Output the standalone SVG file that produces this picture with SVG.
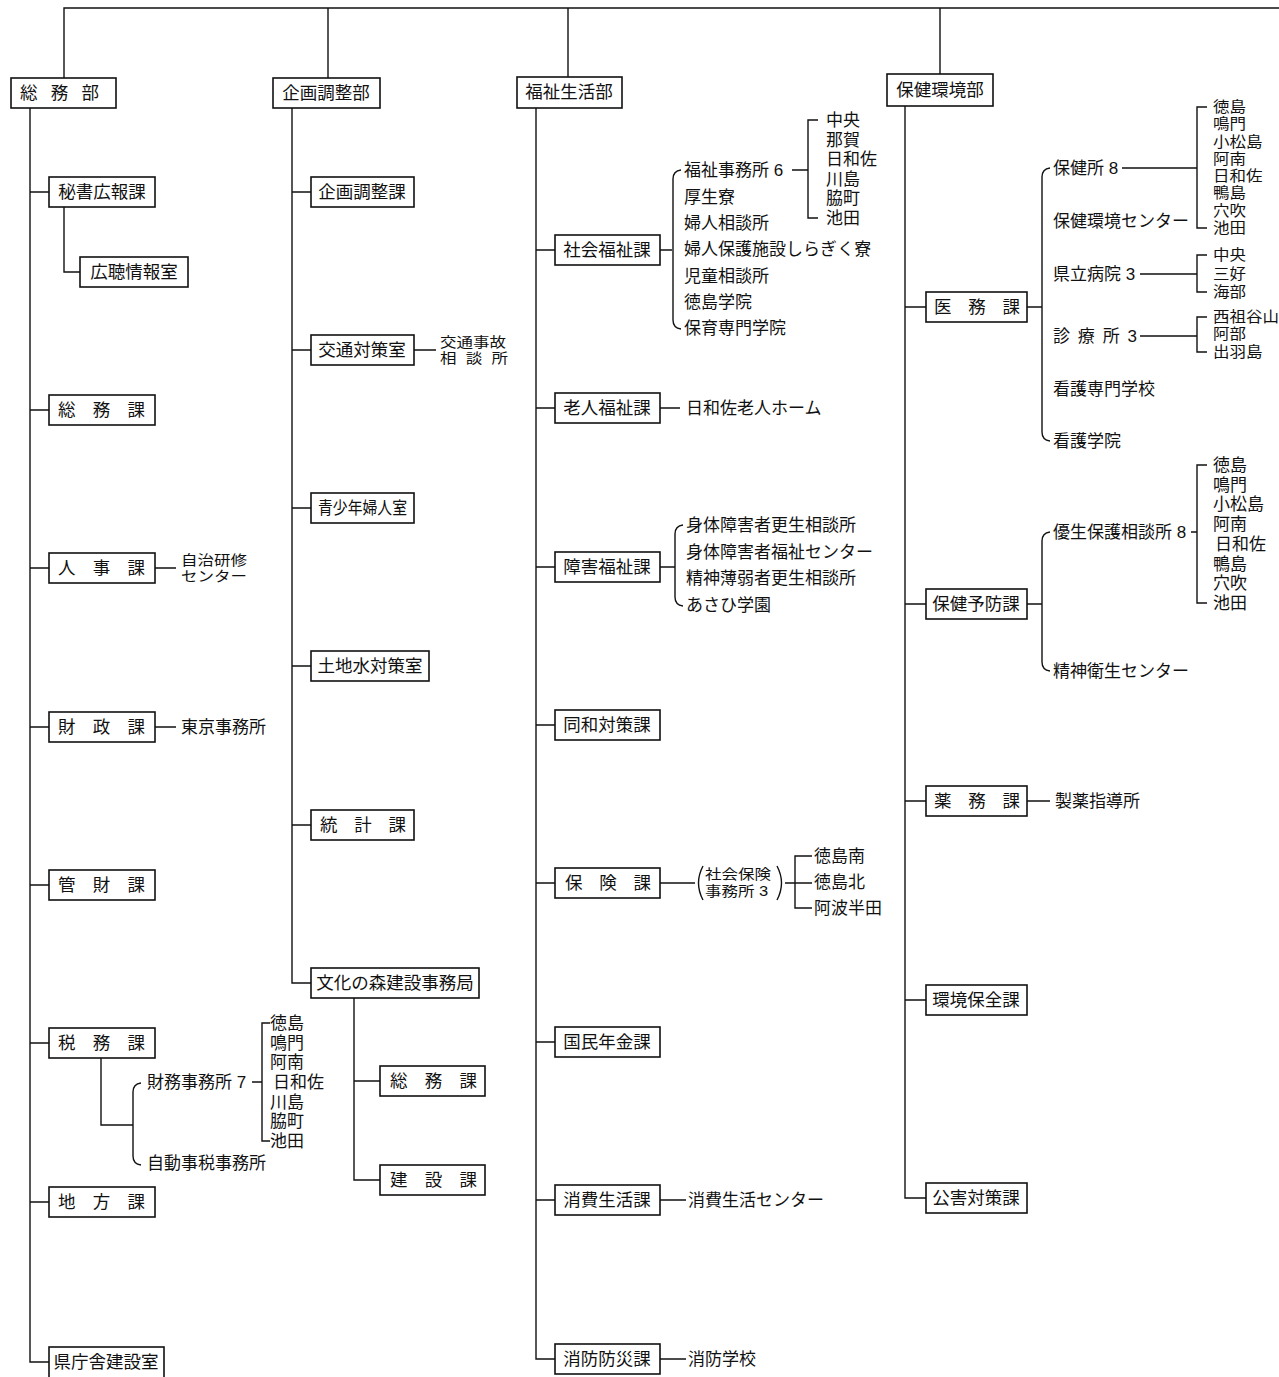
<svg xmlns="http://www.w3.org/2000/svg" width="1279" height="1377" viewBox="0 0 1279 1377">
<style>
text{font-family:"Liberation Sans","Noto Sans CJK JP","Noto Sans CJK SC",sans-serif;fill:#111;dominant-baseline:central}
.b{font-size:17.5px}
.l{font-size:17px}
.s{font-size:16.5px}
.box{fill:#fff;stroke:#111;stroke-width:1.6}
.c path{fill:none;stroke:#111;stroke-width:1.4}
.m{text-anchor:middle}
</style>
<rect width="1279" height="1377" fill="#fff"/>
<g class="c" id="connectors">
<path d="M64 78V8H1279M328 8V78M568 8V77M940 8V74"/>
<path d="M30 108V1362H49M30 192H49M30 410H49M30 568H49M30 727H49M30 885H49M30 1043H49M30 1202H49"/>
<path d="M64 207V272H80M155 568H176M155 727H176"/>
<path d="M101 1058V1125H133M141 1083Q133 1084 133 1092V1156Q133 1164 141 1165"/>
<path d="M252 1082H262M270 1023H262V1141H270"/>
<path d="M292 108V983H311M292 192H311M292 350H311M292 508H311M292 666H311M292 825H311"/>
<path d="M414 350H436M354 998V1180H380M354 1081H380"/>
<path d="M536 108V1359H555M536 250H555M536 408H555M536 567H555M536 725H555M536 883H555M536 1042H555M536 1200H555"/>
<path d="M660 250H672M681 170Q673 171 673 179V320Q673 328 681 329"/>
<path d="M792 170H808M818 120H808V218H818"/>
<path d="M660 408H680M660 567H675M683 525Q675 526 675 534V597Q675 605 683 606"/>
<path d="M660 883H695M703 866Q694 883 703 900M777 866Q786 883 777 900M785 883H812M812 856H795V908H812"/>
<path d="M660 1200H686M660 1359H686"/>
<path d="M905 106V1198H926M905 307H926M905 604H926M905 801H926M905 1000H926"/>
<path d="M1027 307H1042M1050 168Q1042 169 1042 177V432Q1042 440 1050 441"/>
<path d="M1122 168H1197M1207 107H1197V228H1207"/>
<path d="M1140 274H1197M1207 255H1197V292H1207M1140 336H1197M1207 317H1197V352H1207"/>
<path d="M1027 604H1042M1050 532Q1042 533 1042 541V662Q1042 670 1050 671"/>
<path d="M1191 532H1197M1207 465H1197V603H1207M1027 801H1050"/>
</g>

<g id="dept-somu"><rect class="box" x="11" y="78" width="105" height="30"/><text class="b" x="20" y="93" textLength="79" lengthAdjust="spacing">総務部</text></g>
<g id="dept-kikaku"><rect class="box" x="273" y="78" width="107" height="30"/><text class="b m" x="326" y="93">企画調整部</text></g>
<g id="dept-fukushi"><rect class="box" x="517" y="77" width="105" height="31"/><text class="b m" x="569" y="92">福祉生活部</text></g>
<g id="dept-hoken"><rect class="box" x="887" y="74" width="106" height="32"/><text class="b m" x="940" y="90">保健環境部</text></g>

<g id="n-hisho"><rect class="box" x="49" y="177" width="106" height="30"/><text class="b m" x="102" y="192">秘書広報課</text></g>
<g id="n-kocho"><rect class="box" x="80" y="257" width="108" height="30"/><text class="b m" x="134" y="272">広聴情報室</text></g>
<g id="n-somuka"><rect class="box" x="49" y="395" width="106" height="30"/><text class="b" x="58" y="410" textLength="87" lengthAdjust="spacing">総務課</text></g>
<g id="n-jinji"><rect class="box" x="49" y="553" width="106" height="30"/><text class="b" x="58" y="568" textLength="87" lengthAdjust="spacing">人事課</text>
<text class="s" transform="translate(181,560) scale(1,0.86)">自治研修</text><text class="s" transform="translate(181,576) scale(1,0.86)">センター</text></g>
<g id="n-zaisei"><rect class="box" x="49" y="712" width="106" height="30"/><text class="b" x="58" y="727" textLength="87" lengthAdjust="spacing">財政課</text><text class="l" x="181" y="727">東京事務所</text></g>
<g id="n-kanzai"><rect class="box" x="49" y="870" width="106" height="30"/><text class="b" x="58" y="885" textLength="87" lengthAdjust="spacing">管財課</text></g>
<g id="n-zeimu"><rect class="box" x="49" y="1028" width="106" height="30"/><text class="b" x="58" y="1043" textLength="87" lengthAdjust="spacing">税務課</text>
<text class="l" x="147" y="1082">財務事務所 7</text><text class="l" x="147" y="1163">自動事税事務所</text>
<text class="l" x="270" y="1023">徳島</text><text class="l" x="270" y="1043">鳴門</text><text class="l" x="270" y="1062">阿南</text><text class="l" x="273" y="1082">日和佐</text><text class="l" x="270" y="1102">川島</text><text class="l" x="270" y="1121">脇町</text><text class="l" x="270" y="1141">池田</text></g>
<g id="n-chiho"><rect class="box" x="49" y="1187" width="106" height="30"/><text class="b" x="58" y="1202" textLength="87" lengthAdjust="spacing">地方課</text></g>
<g id="n-chosha"><rect class="box" x="49" y="1347" width="115" height="32"/><text class="b m" x="106" y="1362">県庁舎建設室</text></g>

<g id="n-kikakuka"><rect class="box" x="311" y="177" width="103" height="30"/><text class="b m" x="362" y="192">企画調整課</text></g>
<g id="n-kotsu"><rect class="box" x="311" y="335" width="103" height="30"/><text class="b m" x="362" y="350">交通対策室</text>
<text class="s" transform="translate(440,342) scale(1,0.86)">交通事故</text><text class="s" transform="translate(440,358) scale(1,0.86)" textLength="68" lengthAdjust="spacing">相談所</text></g>
<g id="n-seishonen"><rect class="box" x="311" y="493" width="103" height="30"/><text class="b" x="318" y="508" textLength="89" lengthAdjust="spacingAndGlyphs">青少年婦人室</text></g>
<g id="n-tochi"><rect class="box" x="311" y="651" width="118" height="30"/><text class="b m" x="370" y="666">土地水対策室</text></g>
<g id="n-tokei"><rect class="box" x="311" y="810" width="103" height="30"/><text class="b" x="320" y="825" textLength="86" lengthAdjust="spacing">統計課</text></g>
<g id="n-bunka"><rect class="box" x="311" y="968" width="168" height="30"/><text class="b m" x="395" y="983">文化の森建設事務局</text></g>
<g id="n-bunka-somu"><rect class="box" x="380" y="1066" width="105" height="30"/><text class="b" x="390" y="1081" textLength="87" lengthAdjust="spacing">総務課</text></g>
<g id="n-bunka-kensetsu"><rect class="box" x="380" y="1165" width="105" height="30"/><text class="b" x="390" y="1180" textLength="87" lengthAdjust="spacing">建設課</text></g>

<g id="n-shakai"><rect class="box" x="555" y="235" width="105" height="30"/><text class="b m" x="607" y="250">社会福祉課</text>
<text class="l" x="684" y="170">福祉事務所 6</text><text class="l" x="684" y="197">厚生寮</text><text class="l" x="684" y="223">婦人相談所</text><text class="l" x="684" y="249">婦人保護施設しらぎく寮</text><text class="l" x="684" y="276">児童相談所</text><text class="l" x="684" y="302">徳島学院</text><text class="l" x="684" y="328">保育専門学院</text>
<text class="l" x="826" y="120">中央</text><text class="l" x="826" y="140">那賀</text><text class="l" x="826" y="159">日和佐</text><text class="l" x="826" y="179">川島</text><text class="l" x="826" y="198">脇町</text><text class="l" x="826" y="218">池田</text></g>
<g id="n-rojin"><rect class="box" x="555" y="393" width="105" height="30"/><text class="b m" x="607" y="408">老人福祉課</text><text class="l" x="686" y="408">日和佐老人ホーム</text></g>
<g id="n-shogai"><rect class="box" x="555" y="552" width="105" height="30"/><text class="b m" x="607" y="567">障害福祉課</text>
<text class="l" x="686" y="525">身体障害者更生相談所</text><text class="l" x="686" y="552">身体障害者福祉センター</text><text class="l" x="686" y="578">精神薄弱者更生相談所</text><text class="l" x="686" y="605">あさひ学園</text></g>
<g id="n-dowa"><rect class="box" x="555" y="710" width="105" height="30"/><text class="b m" x="607" y="725">同和対策課</text></g>
<g id="n-hoken-ka"><rect class="box" x="555" y="868" width="105" height="30"/><text class="b" x="565" y="883" textLength="86" lengthAdjust="spacing">保険課</text>
<text class="s" transform="translate(705,874) scale(1,0.86)">社会保険</text><text class="s" transform="translate(705,891) scale(1,0.86)">事務所 3</text>
<text class="l" x="814" y="856">徳島南</text><text class="l" x="814" y="882">徳島北</text><text class="l" x="814" y="908">阿波半田</text></g>
<g id="n-nenkin"><rect class="box" x="555" y="1027" width="105" height="30"/><text class="b m" x="607" y="1042">国民年金課</text></g>
<g id="n-shohi"><rect class="box" x="555" y="1185" width="105" height="30"/><text class="b m" x="607" y="1200">消費生活課</text><text class="l" x="688" y="1200">消費生活センター</text></g>
<g id="n-shobo"><rect class="box" x="555" y="1344" width="105" height="30"/><text class="b m" x="607" y="1359">消防防災課</text><text class="l" x="688" y="1359">消防学校</text></g>

<g id="n-imu"><rect class="box" x="926" y="292" width="101" height="30"/><text class="b" x="934" y="307" textLength="86" lengthAdjust="spacing">医務課</text>
<text class="l" x="1053" y="168">保健所 8</text><text class="l" x="1053" y="221">保健環境センター</text><text class="l" x="1053" y="274">県立病院 3</text><text class="l" x="1053" y="336" textLength="84" lengthAdjust="spacing">診療所3</text><text class="l" x="1053" y="389">看護専門学校</text><text class="l" x="1053" y="441">看護学院</text>
<text class="s" transform="translate(1213,107) scale(1,0.9)">徳島</text><text class="s" transform="translate(1213,124) scale(1,0.9)">鳴門</text><text class="s" transform="translate(1213,142) scale(1,0.9)">小松島</text><text class="s" transform="translate(1213,159) scale(1,0.9)">阿南</text><text class="s" transform="translate(1213,176) scale(1,0.9)">日和佐</text><text class="s" transform="translate(1213,193) scale(1,0.9)">鴨島</text><text class="s" transform="translate(1213,211) scale(1,0.9)">穴吹</text><text class="s" transform="translate(1213,228) scale(1,0.9)">池田</text>
<text class="s" transform="translate(1213,255) scale(1,0.9)">中央</text><text class="s" transform="translate(1213,274) scale(1,0.9)">三好</text><text class="s" transform="translate(1213,292) scale(1,0.9)">海部</text>
<text class="s" transform="translate(1213,317) scale(1,0.9)">西祖谷山</text><text class="s" transform="translate(1213,334) scale(1,0.9)">阿部</text><text class="s" transform="translate(1213,352) scale(1,0.9)">出羽島</text></g>
<g id="n-yobo"><rect class="box" x="926" y="589" width="101" height="30"/><text class="b m" x="976" y="604">保健予防課</text>
<text class="l" x="1053" y="532">優生保護相談所 8</text><text class="l" x="1053" y="671">精神衛生センター</text>
<text class="l" x="1213" y="465">徳島</text><text class="l" x="1213" y="485">鳴門</text><text class="l" x="1213" y="504">小松島</text><text class="l" x="1213" y="524">阿南</text><text class="l" x="1215" y="544">日和佐</text><text class="l" x="1213" y="564">鴨島</text><text class="l" x="1213" y="583">穴吹</text><text class="l" x="1213" y="603">池田</text></g>
<g id="n-yakumu"><rect class="box" x="926" y="786" width="101" height="30"/><text class="b" x="934" y="801" textLength="86" lengthAdjust="spacing">薬務課</text><text class="l" x="1055" y="801">製薬指導所</text></g>
<g id="n-kankyo"><rect class="box" x="926" y="985" width="101" height="30"/><text class="b m" x="976" y="1000">環境保全課</text></g>
<g id="n-kogai"><rect class="box" x="926" y="1183" width="101" height="30"/><text class="b m" x="976" y="1198">公害対策課</text></g>
</svg>
